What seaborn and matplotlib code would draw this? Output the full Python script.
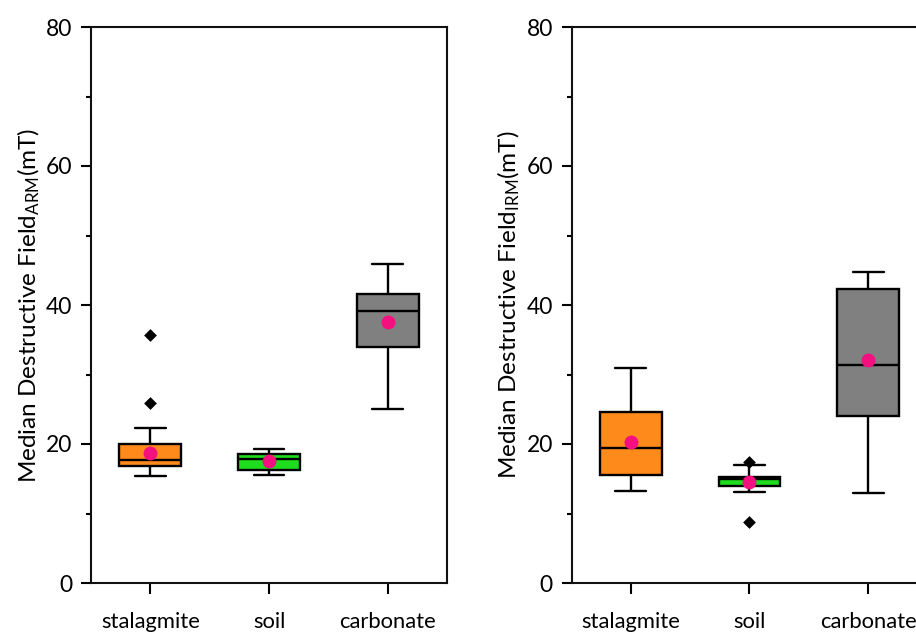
import numpy as np
import pandas as pd
import matplotlib
matplotlib.use("Agg")
import matplotlib.pyplot as plt
import seaborn as sns
from matplotlib.ticker import MultipleLocator

categories = ["stalagmite", "soil", "carbonate"]
box_colors = ["#FF8A1C", "#1EDC1E", "#808080"]
mean_color = "#F5107F"

# ARM panel: lower whisker, Q1, median, Q3, upper whisker, mean per category
arm_low = [15.4, 15.6, 25.0]
arm_q1 = [16.8, 16.3, 34.0]
arm_median = [17.7, 17.9, 39.1]
arm_q3 = [20.0, 18.6, 41.6]
arm_high = [22.3, 19.3, 45.9]
arm_mean = [18.7, 17.6, 37.5]
arm_outlier_cat = ["stalagmite", "stalagmite"]
arm_outlier_val = [35.7, 25.9]

# IRM panel
irm_low = [13.2, 13.1, 12.9]
irm_q1 = [15.6, 14.0, 24.0]
irm_median = [19.4, 15.0, 31.3]
irm_q3 = [24.6, 15.3, 42.3]
irm_high = [31.0, 17.0, 44.7]
irm_mean = [20.3, 14.6, 32.1]
irm_outlier_cat = ["soil", "soil"]
irm_outlier_val = [17.4, 8.8]

sns.set_theme(style="ticks")
plt.rcParams["font.family"] = ["Lato", "DejaVu Sans"]
plt.rcParams["mathtext.fontset"] = "custom"
plt.rcParams["mathtext.rm"] = "Lato"
plt.rcParams["mathtext.it"] = "Lato:italic"
plt.rcParams["mathtext.bf"] = "Lato:bold"


def summary_frame(low, q1, med, q3, high):
    # Five values per group reproduce the quartiles exactly under linear percentiles
    rows = []
    for cat, vals in zip(categories, zip(low, q1, med, q3, high)):
        for v in vals:
            rows.append({"group": cat, "value": v})
    return pd.DataFrame(rows)


def draw_panel(ax, low, q1, med, q3, high, mean, out_cat, out_val, ylabel):
    df = summary_frame(low, q1, med, q3, high)
    sns.boxplot(data=df, x="group", y="value", hue="group", order=categories,
                hue_order=categories, palette=box_colors, saturation=1,
                width=0.52, whis=(0, 100), showfliers=False, linecolor="black",
                linewidth=1.7, legend=False, ax=ax)
    sns.stripplot(x=out_cat, y=out_val, order=categories, jitter=False,
                  marker="D", size=6.5, color="black", linewidth=0, ax=ax,
                  zorder=4)
    sns.stripplot(x=categories, y=mean, order=categories, jitter=False,
                  marker="o", size=10, color=mean_color, linewidth=0, ax=ax,
                  zorder=5)
    ax.set_xlim(-0.5, 2.5)
    ax.set_ylim(0, 80)
    ax.yaxis.set_major_locator(MultipleLocator(20))
    ax.yaxis.set_minor_locator(MultipleLocator(10))
    ax.set_xlabel("")
    ax.set_ylabel(ylabel, fontsize=17.5, labelpad=3, color="black")
    ax.tick_params(axis="y", which="major", labelsize=16.5, width=1.5,
                   color="black", labelcolor="black", length=7.5, pad=6)
    ax.tick_params(axis="y", which="minor", length=3.8, width=1.5, left=True,
                   color="black")
    ax.tick_params(axis="x", which="major", labelsize=15.8, width=1.5,
                   color="black", labelcolor="black", length=8, pad=13)
    for side in ["left", "right", "top", "bottom"]:
        ax.spines[side].set_visible(True)
        ax.spines[side].set_linewidth(1.5)
        ax.spines[side].set_color("#111111")


fig = plt.figure(figsize=(9.16, 6.33), dpi=100)
W, H = 916, 633
ax1 = fig.add_axes([91 / W, (H - 583) / H, 356 / W, 556 / H])
ax2 = fig.add_axes([571.5 / W, (H - 583) / H, 356 / W, 556 / H])

draw_panel(ax1, arm_low, arm_q1, arm_median, arm_q3, arm_high, arm_mean,
           arm_outlier_cat, arm_outlier_val,
           r"Median Destructive Field$_{\mathrm{ARM}}$(mT)")
draw_panel(ax2, irm_low, irm_q1, irm_median, irm_q3, irm_high, irm_mean,
           irm_outlier_cat, irm_outlier_val,
           r"Median Destructive Field$_{\mathrm{IRM}}$(mT)")

fig.savefig("out.png", dpi=100)
